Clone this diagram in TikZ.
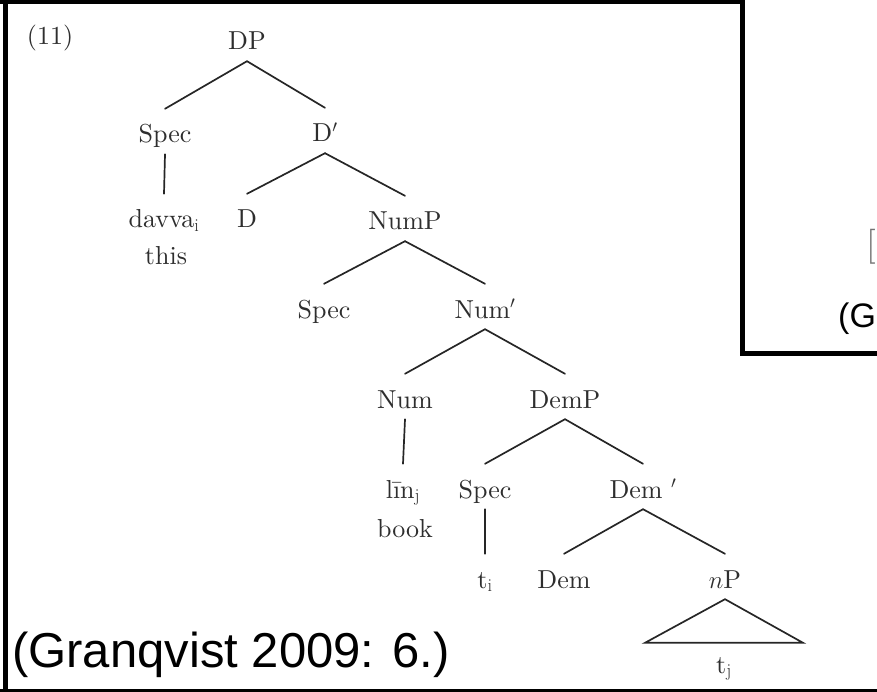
\documentclass[tikz,border=0pt]{standalone}
\usepackage{fontspec}
\newfontfamily\arialfont{Liberation Sans}
\newfontfamily\treefamily{lmroman10-regular}[Extension=.otf]
\newcommand\treefont{\treefamily\fontsize{26}{31}\selectfont}
\begin{document}
\begin{tikzpicture}[x=1pt,y=-1pt,
  lbl/.style={anchor=base, inner sep=0pt, text height=18pt, text depth=6pt, font=\treefont, text=black!82},
  branch/.style={draw=black!85, line width=1.7pt, line cap=round},
  framepen/.style={draw=black, line join=miter}]
\useasboundingbox (0,0) rectangle (877,692);

% outer frame
\draw[framepen, line width=4.5pt] (5.5,0) -- (5.5,692);
\draw[framepen, line width=4pt] (0,2) -- (745,2);
\draw[framepen, line width=3pt] (0,690.5) -- (877,690.5);

% inner box at top right
\fill[white] (742.5,-5) rectangle (890,353.5);
\draw[framepen, line width=5pt] (742.5,-5) -- (742.5,353.5) -- (890,353.5);
\node[anchor=base west, inner sep=0pt, font=\treefamily\fontsize{35}{40}\selectfont, text=black!55] (brk) at (866,256) {[};
\node[anchor=base west, inner sep=0pt, font=\arialfont\fontsize{34}{40}\selectfont] (cit2) at (838,327) {(G};

% tree
\node[lbl] (ex) at (50,45) {(11)};
\node[lbl] (dp) at (247,50) {DP};
\node[lbl] (spec1) at (165,143) {Spec};
\node[lbl] (dbar) at (325,142) {D$'$};
\node[lbl] (davva) at (164,228) {davva$_\mathrm{i}$};
\node[lbl] (this) at (166,265) {this};
\node[lbl] (d) at (247,228) {D};
\node[lbl] (nump) at (405,230) {NumP};
\node[lbl] (spec2) at (324,318) {Spec};
\node[lbl] (numbar) at (485,318) {Num$'$};
\node[lbl] (num) at (405,408) {Num};
\node[lbl] (demp) at (565,408) {DemP};
\node[lbl] (lin) at (403,498) {līn$_\mathrm{j}$};
\node[lbl] (book) at (405,537) {book};
\node[lbl] (spec3) at (485,498) {Spec};
\node[lbl] (dembar) at (643,498) {Dem $'$};
\node[lbl] (ti) at (485,588) {t$_\mathrm{i}$};
\node[lbl] (dem) at (564,588) {Dem};
\node[lbl] (np) at (725,588) {$n$P};
\node[lbl] (tj) at (724,673) {t$_\mathrm{j}$};

\foreach \a/\b in {dp/spec1, dp/dbar, spec1/davva, dbar/d, dbar/nump,
  nump/spec2, nump/numbar, numbar/num, numbar/demp, num/lin,
  demp/spec3, demp/dembar, spec3/ti, dembar/dem, dembar/np}
  \draw[branch] ([yshift=-5pt]\a.south) -- ([yshift=16pt]\b.north);

\draw[branch, line join=miter] ([yshift=-5pt]np.south) -- ([xshift=-79pt,yshift=12pt]tj.north)
  -- ([xshift=79pt,yshift=12pt]tj.north) -- cycle;

% citation
\node[anchor=base west, inner sep=0pt, font=\arialfont\fontsize{49}{56}\selectfont] (cit) at (12,667) {(Granqvist 2009: 6.)};
\end{tikzpicture}
\end{document}
